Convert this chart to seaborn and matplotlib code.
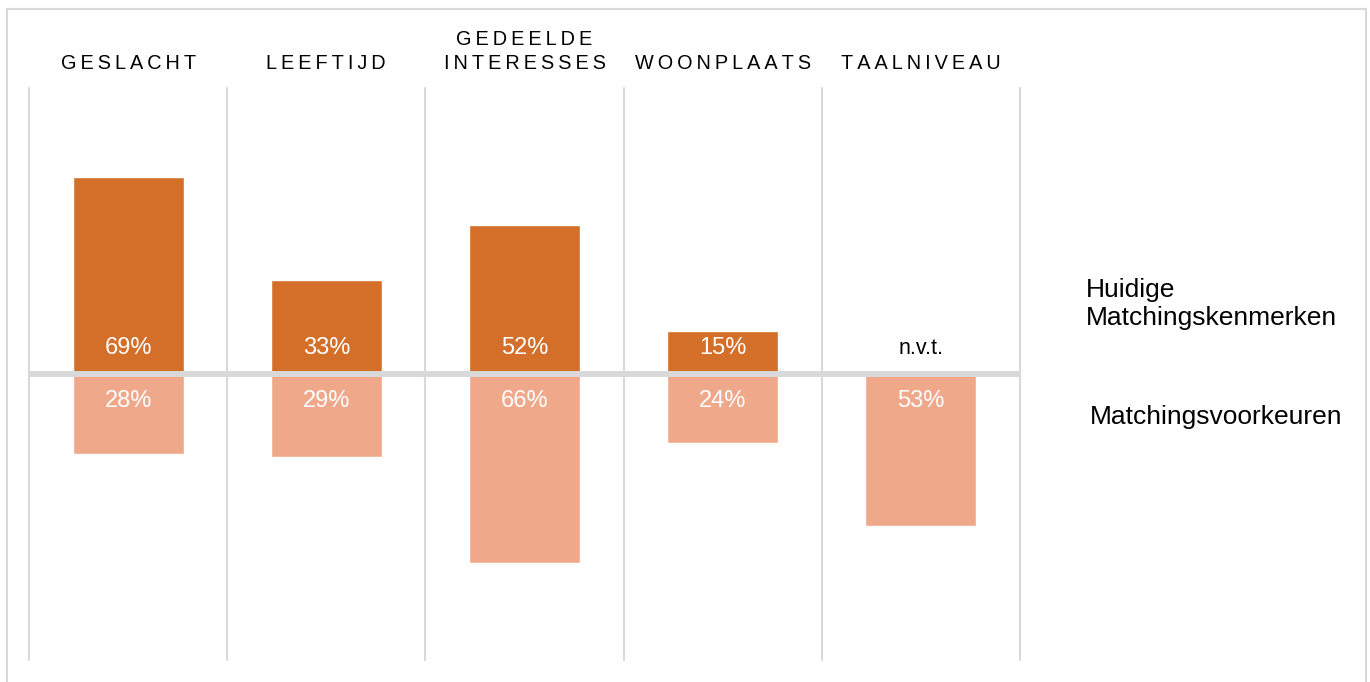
import matplotlib
matplotlib.use("Agg")
import matplotlib.pyplot as plt
import seaborn as sns
import pandas as pd
import numpy as np
from matplotlib.patches import Rectangle

sns.set_style("white")
plt.rcParams['font.family'] = ['Liberation Sans', 'DejaVu Sans']
plt.rcParams['text.color'] = 'black'

# data
categories = ["GESLACHT", "LEEFTIJD", "GEDEELDE INTERESSES", "WOONPLAATS", "TAALNIVEAU"]
header_lines = [["GESLACHT"], ["LEEFTIJD"], ["GEDEELDE", "INTERESSES"], ["WOONPLAATS"], ["TAALNIVEAU"]]
huidige = [69, 33, 52, 15, np.nan]       # Huidige Matchingskenmerken
voorkeuren = [28, 29, 66, 24, 53]        # Matchingsvoorkeuren
series_names = ["Huidige\nMatchingskenmerken", "Matchingsvoorkeuren"]

dark = "#D46F2A"
light = "#F0A88B"
grid = "#D9D9D9"

df = pd.DataFrame({"cat": categories, "up": huidige, "down": [-v for v in voorkeuren]})

W, H = 1370, 682
fig = plt.figure(figsize=(W / 100, H / 100), dpi=100)
ax = fig.add_axes([29 / W, 1 - 660 / H, (1020 - 29) / W, (660 - 88) / H])

sns.barplot(data=df, x="cat", y="up", color=dark, width=0.56, saturation=1, ax=ax)
sns.barplot(data=df, x="cat", y="down", color=light, width=0.56, saturation=1, ax=ax)

ax.set_ylim(-100, 100)
ax.set_xlim(-0.5, len(categories) - 0.5)
ax.axis("off")

# column separators and baseline
for x in np.arange(-0.5, len(categories), 1):
    ax.axvline(x, color=grid, lw=1.5, zorder=0, clip_on=False)
ax.axhline(0, color=grid, lw=4.3, zorder=3, clip_on=False, solid_capstyle="butt")

# value labels
for i, (u, d) in enumerate(zip(huidige, voorkeuren)):
    if np.isnan(u):
        ax.text(i, 9.0, "n.v.t.", ha="center", va="center", fontsize=15.5, color="black")
    else:
        ax.text(i, 9.0, f"{u:.0f}%", ha="center", va="center", fontsize=17, color="white")
    ax.text(i, -9.5, f"{d}%", ha="center", va="center", fontsize=17, color="white")

# letter-spaced headers
xt = ax.get_xaxis_transform()
for i, lines in enumerate(header_lines):
    for j, line in enumerate(reversed(lines)):
        ax.text(i, 1.0430 + j * 0.042, "\u2009".join(line), transform=xt,
                ha="center", va="center", fontsize=14.3, color="black", clip_on=False)

# series labels on the right
ax.text(4.833, 24.5, series_names[0], ha="left", va="center", fontsize=19,
        linespacing=1.18, clip_on=False)
ax.text(4.853, -15.1, series_names[1], ha="left", va="center", fontsize=19,
        clip_on=False)

# outer frame
fig.patches.append(Rectangle((7 / W, -0.05), (1366 - 7) / W, 1.05 - 9 / H,
                             transform=fig.transFigure, fill=False,
                             edgecolor=grid, lw=1.5, zorder=0))

fig.savefig("out.png", dpi=100)
